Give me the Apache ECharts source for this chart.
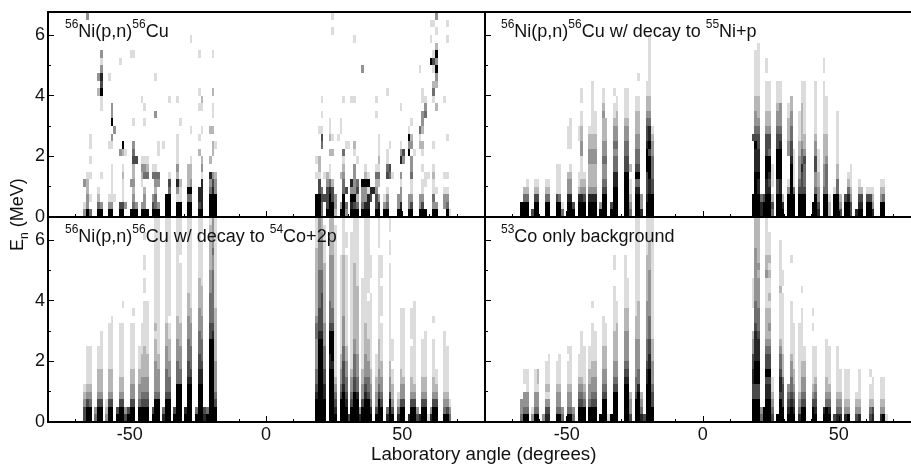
<!DOCTYPE html>
<html><head><meta charset="utf-8"><style>html,body{margin:0;padding:0;background:#fff}#c{width:911px;height:468px}</style>
<script src="https://cdn.jsdelivr.net/npm/echarts@6/dist/echarts.min.js"></script></head>
<body><div id="c"></div><script>
// Cell grey level (0 none .. 7 black). Sparse panels: one string per energy row, "column:level".
const aLeftRows = [
'0:3 1:7 2:4 5:7 6:7 9:7 10:7 13:7 14:7 17:7 18:7 19:7 21:7 22:7 23:7 25:7 26:7 27:7 30:7 31:7 34:7 35:7 38:7 39:7 42:7 43:7 46:7 47:7 48:7',
'0:1 1:3 5:4 6:3 9:3 10:3 13:5 14:5 15:3 18:4 19:3 21:3 22:3 25:5 26:4 27:3 30:7 31:7 34:7 35:7 38:7 39:7 42:5 43:6 46:7 47:7 48:7',
'1:3 2:1 5:2 9:1 10:1 11:1 14:1 18:3 22:3 25:3 26:4 30:7 31:7 34:1 35:1 38:4 39:4 42:6 43:6 46:7 47:7 48:7',
'1:2 5:1 10:1 14:1 18:2 22:2 26:2 31:4 34:3 35:1 38:7 39:7 42:6 43:6 46:4 47:6 48:3',
'0:3 1:2 10:1 14:1 17:3 18:3 21:1 26:3 27:3 31:5 34:6 35:2 38:2 39:3 43:6 46:3 47:5 48:3',
'1:1 2:1 6:1 10:1 14:2 18:2 21:2 22:4 23:4 25:4 26:4 27:4 31:1 34:2 38:2 39:2 43:1 46:6 47:3 48:2',
'10:1 14:1 18:2 21:3 22:3 23:2 25:1 26:1 34:3 38:2 39:2 43:3',
'2:1 18:5 19:5 21:1 22:1 23:1 34:1 39:1 43:2 46:2',
'13:3 14:2 15:1 18:4 27:1 34:1 42:2 47:2',
'2:1 9:1 10:1 14:7 18:3 27:1 29:1 34:1 47:2 48:1',
'2:1 10:3 34:1 42:1',
'11:3 39:1 43:1 46:2 47:2',
'10:7 18:1 22:1 35:1',
'10:3 26:3 47:1',
'6:1 10:3 22:1 42:1 43:1 47:1',
'6:1 21:1 31:1 34:1 43:2',
'5:2 6:7 42:1 47:2',
'6:5',
'5:3 6:6 9:1 26:1',
'6:3',
'6:1 13:1',
'6:3 17:1 18:1 42:1 47:1',
'',
'39:1',
'',
'',
'1:3'
];
const aRightRows = [
'0:7 1:7 2:4 4:7 5:7 6:7 7:2 9:7 10:7 11:3 13:7 14:7 15:7 17:7 18:7 19:7 22:7 23:7 25:7 26:7 30:7 31:7 34:7 35:7 38:7 39:7 40:7 43:7 44:7 48:7 49:1',
'0:7 1:7 2:4 4:5 5:7 6:7 7:3 9:3 10:7 11:4 13:6 14:5 15:4 17:4 18:6 19:6 22:5 23:6 25:3 26:4 30:3 31:6 34:3 35:5 38:3 39:5 43:3 44:3 47:3 48:4',
'0:7 1:7 2:5 3:5 4:5 5:7 6:5 7:3 10:7 13:7 14:7 15:2 17:3 18:3 19:6 20:5 22:5 23:3 25:1 26:3 30:3 31:3 34:3 35:3 38:3 39:3 43:4 47:3 48:3',
'1:5 2:4 4:5 5:6 6:5 10:4 11:5 13:3 14:3 15:5 17:3 18:3 19:1 20:6 21:6 22:3 26:1 31:3 35:1 39:1 43:1 44:1 47:1 48:1',
'1:5 4:3 5:4 6:2 10:4 13:6 14:3 15:4 17:7 18:7 19:7 22:2 23:2 31:1 35:1 39:1 40:1 43:1',
'0:1 1:1 3:1 4:2 5:1 9:2 10:3 14:3 18:2 19:1 22:4 23:4 26:5 27:4 28:1 31:3 35:4 40:1 41:1 43:2 47:1 48:1',
'1:2 5:1 10:2 14:3 18:1 22:1 23:1 26:4 27:5 35:3 39:1 43:1',
'0:1 1:2 10:1 15:1 23:2 26:1 31:6 32:3 35:3',
'5:2 6:2 10:4 14:1 23:1 26:1 31:3 32:5 34:7 36:1 39:1',
'2:4 11:1 12:1 14:2 23:1 27:1 31:1 34:3 35:3 38:2 39:2 43:1',
'2:5 5:2 6:1 8:1 23:1 34:7 35:2 38:1 48:1',
'1:1 2:1 5:1 9:1 34:1 38:4 39:2',
'5:1 9:1 35:1 39:3',
'2:1 22:1 39:3 40:4',
'31:1 40:3 44:2',
'2:1 10:1 13:1 14:1 22:1 39:1 40:1 43:1 47:1',
'26:1 39:1 43:4',
'43:2 44:2',
'44:3',
'17:3 38:1 43:1 44:7',
'42:7 43:5 44:3',
'43:1 44:7',
'44:2',
'14:1 42:1 48:1',
'6:1 44:1',
'42:1 43:1 48:1',
'6:1 44:3'
];
// Dense panels: one string per angle column, bottom energy bin first.
const bLeftCols = ['77','7742','77421','','5','77521','77521','','','77421','77421','','','7751111','7741111','41','','776332000111','7763321001111','75','','7762110000110','77632111332211011','775321','','776322233221','776322233221111111','77632223322111','','73','77754334332223211','7775433433222','','75','77776644343321101','7777664434332211','','','77777755443321111','77777755443321111','4321102','','7776475443322211','7776475443322211001','633','','776555777655432211','777667775766432211111111','777554443321'];
const bRightCols = ['77700000005','7777776667543322111111','77766766655432221111111','664','775','777667775553221111011','777656774553221111','4520111','','777557777554332111','777667777654333111','762','','777310003322211','7777777655443322','777411111','','77754333221111','777555644322222111','777544453221111111','','','77','777433553321111111','653322111','','777433322221111111011','7774444322211111','221','','7771','77744221111111','532','','775','7764210','5532111','','6','76521','7652','','7751','7751','6321','','','77321','77421'];
const cLeftCols = ['55321','7753211111','7743211111','','43','7753222111','775322211111','','321','7753222111111','77532221111111','','75','7753221111111','7753221111111001','53','75','7753322111111','775332211111101','','7743322111','7754332221111','7754332222111111011011001','7754332221111111','','75','777433332221211111111111111','777433322111111111111111111','','64','777544433322211111111111111','777544332221101111111111111','','75','777774443332221111111111111','777774433322211111111011111','','76','777776554443332221111111111','777776544433322111111111111','','74','777776655444333222211111111','777776654443332222111111011','65','74','777777777775544443332222221','777777777776544444443343333','775433332222222111111111111'];
const cRightCols = ['777654433334432222222221111','777777777776555444443333333','777777777776555554443333322','77766554443332222222211111','','777777766777544433333322222','777777767777544333333322222','76543211111111111111111111','','7775433221111111111111','777765554433332222222211111','7765443322111111111111011','5','7754332111111111111111111','777755444332222222222111111','777644333222222222111111111','63','7753322111111111111','777654333222211111111111111','777544332221111101111111111','7643322111111111100111','','7533221110','777543322221111111111101111','7754332211111011110111','','64','777533221111111111111011011','75322110111','','6421','775332211111111','775332111111111','','6','775322111101111','7753211111111111','53','6','77532211111','775322111111','1','63','77532211111001','7753211','','','743211111111','7532111111','431'];
const dLeftCols = ['433','7433011','7433111','','31','7433111','7433122','','3','65312111','653121111','','','74332111','743321111','43','','7433211101','7433211111','43','','775432111','775432111111','7743211111','','7743322111','7754332211111001','775433221111','','7','77754332221111','7775433222111','1','7','7777543322221111110011','7777543322222111','','','7777765433332221111111','7777765433332221111','5332','','777544333332221111111111111','777764433332222211111111111','6432','5','777776654443333322222211111','777777766554443333332222111','775543332221111111111111111'];
const dRightCols = ['7775566553320001111','777557776666544433333332222','777557776665444333323222222','43','77','777665755432222111132211111','7776657554323221211212111','543211','','7','777566544321111112111111','7755542221111111101100','','76543','7765443321111111000001','7654322111111','','6432111111111','775433221111111001','7754332211','','','775321111100101','765432111100','','','76','77432211111','7643211111','','5','6432111111','6432111','','6321111','7321111','','','5321','6321111','','','','5421101','652111','','','632111','732111','1'];
const leftStartAngle = -67, rightStartAngle = 18, binAngle = 1, binEnergy = 0.25;
const majorXTicks = [-50,0,50], minorXTicks = [-70,-60,-40,-30,-20,-10,10,20,30,40,60,70];
const majorYTicks = [0,2,4,6], minorYTicks = [1,3,5];
const panelTitles = ['{s|56}{b|Ni(p,n)}{s|56}{b|Cu}','{s|56}{b|Ni(p,n)}{s|56}{b|Cu w/ decay to }{s|55}{b|Ni+p}','{s|56}{b|Ni(p,n)}{s|56}{b|Cu w/ decay to }{s|54}{b|Co+2p}','{s|53}{b|Co only background}'];
const greys = ['#fff','#dcdcdc','#b6b6b6','#939393','#6e6e6e','#4a4a4a','#262626','#000'];
const font = '"Liberation Sans", Arial, sans-serif';

function fromRows(rows, start){const o=[];rows.forEach((s,r)=>{if(!s)return;s.split(' ').forEach(t=>{const [k,l]=t.split(':').map(Number);o.push([start+k,r*binEnergy,l]);});});return o;}
function fromCols(cols, start){const o=[];cols.forEach((s,k)=>{[...s].forEach((c,r)=>{if(+c>0)o.push([start+k,r*binEnergy,+c]);});});return o;}
const panelData = [
 fromRows(aLeftRows,leftStartAngle).concat(fromRows(aRightRows,rightStartAngle)),
 fromCols(bLeftCols,leftStartAngle).concat(fromCols(bRightCols,rightStartAngle)),
 fromCols(cLeftCols,leftStartAngle).concat(fromCols(cRightCols,rightStartAngle)),
 fromCols(dLeftCols,leftStartAngle).concat(fromCols(dRightCols,rightStartAngle))
];
const grids=[{left:48,top:12,width:436,height:205},{left:485,top:12,width:426,height:205},{left:48,top:217,width:436,height:205},{left:485,top:217,width:426,height:205}];
const xMaxes=[80,76.5,80,76.5];
const label={fontFamily:font,fontSize:18,color:'#111'};
const xAxis=[],yAxis=[],series=[],graphic=[];
grids.forEach((g,i)=>{
  const base={gridIndex:i,type:'value',min:-80,max:xMaxes[i],splitLine:{show:false}};
  const bottomRow=i>=2, leftCol=i%2===0;
  xAxis.push({...base,position:'bottom',z:3,axisLine:{onZero:false,lineStyle:{color:'#000',width:2}},
    axisTick:{customValues:majorXTicks,inside:true,length:6,lineStyle:{color:'#000',width:1}},
    axisLabel:bottomRow?{...label,customValues:majorXTicks,margin:4,hideOverlap:false,showMinLabel:true,showMaxLabel:true}:{show:false}});
  xAxis.push({...base,position:'bottom',axisLine:{show:false,onZero:false},
    axisTick:{customValues:minorXTicks,inside:true,length:3,lineStyle:{color:'#000',width:1}},axisLabel:{show:false}});
  xAxis.push({...base,position:'top',z:3,axisLine:{onZero:false,lineStyle:{color:'#000',width:2}},axisTick:{show:false},axisLabel:{show:false}});
  const ybase={gridIndex:i,type:'value',min:0,max:6.76,splitLine:{show:false}};
  yAxis.push({...ybase,position:'left',z:3,axisLine:{onZero:false,lineStyle:{color:'#000',width:2}},
    axisTick:{customValues:majorYTicks,inside:true,length:6,lineStyle:{color:'#000',width:1}},
    axisLabel:leftCol?{...label,customValues:majorYTicks,margin:3}:{show:false}});
  yAxis.push({...ybase,position:'left',axisLine:{show:false,onZero:false},
    axisTick:{customValues:minorYTicks,inside:true,length:3,lineStyle:{color:'#000',width:1}},axisLabel:{show:false}});
  series.push({type:'custom',xAxisIndex:i*3,yAxisIndex:i*2,data:panelData[i],encode:{x:0,y:1},silent:true,animation:false,z:2,
    renderItem(params,api){
      const a=api.coord([api.value(0),api.value(1)]),b=api.coord([api.value(0)+binAngle,api.value(1)+binEnergy]);
      const x0=Math.round(a[0]),x1=Math.round(b[0]),y0=Math.round(a[1]),y1=Math.round(b[1]);
      const c=params.coordSys;
      const rect=echarts.graphic.clipRectByRect({x:x0,y:y1,width:x1-x0,height:y0-y1},{x:c.x,y:c.y,width:c.width,height:c.height});
      return rect&&{type:'rect',shape:rect,style:{fill:greys[api.value(2)]}};
    }});
  graphic.push({type:'text',z:20,left:g.left+(leftCol?17:16),top:g.top+7,style:{text:panelTitles[i],fontFamily:font,fontSize:18,fill:'#111',
    rich:{b:{fontFamily:font,fontSize:18,fill:'#111',lineHeight:22,verticalAlign:'bottom'},s:{fontFamily:font,fontSize:12,fill:'#111',lineHeight:22,verticalAlign:'top'}}}});
});
graphic.push({type:'text',z:20,left:371,top:445,style:{text:'Laboratory angle (degrees)',fontFamily:font,fontSize:18.7,fill:'#111'}});
graphic.push({type:'text',z:20,x:9,y:251,rotation:Math.PI/2,style:{text:'{b|E}{n|n}{b| (MeV)}',fontFamily:font,fontSize:18,fill:'#111',
  rich:{b:{fontFamily:font,fontSize:18,fill:'#111',lineHeight:22,verticalAlign:'top'},n:{fontFamily:font,fontSize:12,fill:'#111',lineHeight:22,verticalAlign:'bottom'}}}});
const chart=echarts.init(document.getElementById('c'),null,{renderer:'canvas'});
chart.setOption({animation:false,backgroundColor:'#fff',grid:grids,xAxis,yAxis,series,graphic});
</script></body></html>
